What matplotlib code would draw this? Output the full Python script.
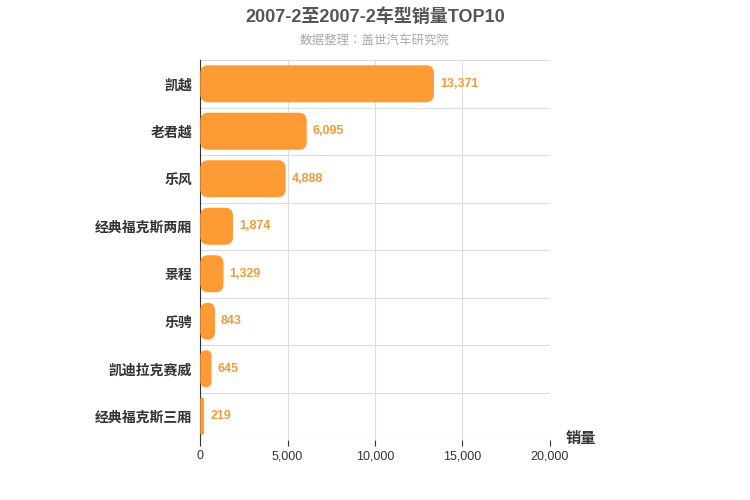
import matplotlib
matplotlib.use("Agg")
import matplotlib.pyplot as plt
from matplotlib.patches import FancyBboxPatch

plt.rcParams["font.family"] = ["Liberation Sans", "Noto Sans CJK JP", "Noto Sans CJK SC",
                               "Noto Sans CJK TC", "DejaVu Sans"]

models = ["凯越", "老君越", "乐风", "经典福克斯两厢", "景程", "乐骋", "凯迪拉克赛威", "经典福克斯三厢"]
sales = [13371, 6095, 4888, 1874, 1329, 843, 645, 219]
xticks = [0, 5000, 10000, 15000, 20000]

fig = plt.figure(figsize=(7.5, 5), dpi=100)
ax = fig.add_axes([0.267, 0.12, 0.466, 0.76])
n = len(models)
ax.set_xlim(0, 20000)
ax.set_ylim(n, 0)

x_per_px = 20000 / 350
y_per_px = n / 380
aspect = y_per_px / x_per_px
h = 0.78
for i, v in enumerate(sales):
    rs = min(8 * x_per_px, v / 2)
    p = FancyBboxPatch((0, i + (1 - h) / 2), v, h,
                       boxstyle=f"round,pad=0,rounding_size={rs}",
                       mutation_aspect=aspect, facecolor="#ff9b35",
                       edgecolor="none", zorder=3)
    ax.add_patch(p)
    ax.text(v + 350, i + 0.5, f"{v:,}", va="center", ha="left",
            color="#f39a3a", fontsize=9, fontweight="bold", zorder=4)

ax.set_xticks(xticks)
ax.set_xticklabels([f"{t:,}" for t in xticks], fontsize=9, color="#333333")
ax.set_yticks([i + 0.5 for i in range(n)])
ax.set_yticklabels(models, fontsize=10, fontweight="bold", color="#333333")
ax.set_yticks(range(n + 1), minor=True)
ax.tick_params(axis="y", which="both", length=0, pad=6)
ax.tick_params(axis="x", length=4, color="#333333")
ax.grid(axis="x", color="#dddddd", lw=0.8, zorder=0)
ax.grid(axis="y", which="minor", color="#dddddd", lw=0.8, zorder=0)
for s in ["top", "right", "bottom"]:
    ax.spines[s].set_visible(False)
ax.spines["left"].set_color("#333333")

fig.text(0.5, 0.965, "2007-2至2007-2车型销量TOP10", ha="center", va="center",
         fontsize=13, fontweight="bold", color="#555555")
fig.text(0.5, 0.918, "数据整理：盖世汽车研究院", ha="center", va="center",
         fontsize=9, color="#aaaaaa")
fig.text(0.775, 0.123, "销量", ha="center", va="center", fontsize=11,
         fontweight="bold", color="#333333")

fig.savefig("out.png", dpi=100)
